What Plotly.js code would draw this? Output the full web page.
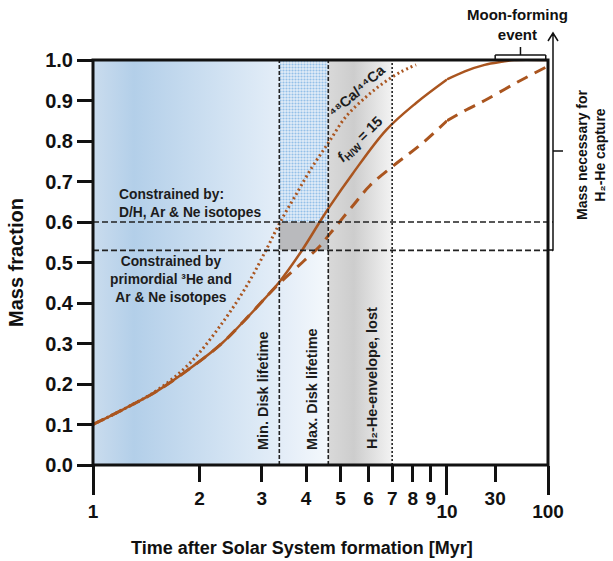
<!DOCTYPE html>
<html>
<head>
<meta charset="utf-8">
<script src="https://cdn.plot.ly/plotly-3.0.1.min.js"></script>
<style>
  html, body { margin: 0; padding: 0; background: #fff; }
  #chart { width: 613px; height: 561px; }
</style>
</head>
<body>
<div id="chart"></div>
<script>
// Growth curves: mass fraction accreted vs. time after Solar System formation (Myr)
const solidTime  = [1, 1.234, 1.52, 1.89, 2.31, 2.68, 3.05, 3.36, 3.9, 4.37, 4.66, 5.42, 6.73, 8.18, 10, 15, 23.6, 36, 46, 100];
const solidMass  = [0.10, 0.14, 0.183, 0.24, 0.30, 0.357, 0.41, 0.452, 0.531, 0.60, 0.638, 0.72, 0.827, 0.894, 0.952, 0.972, 0.988, 0.996, 1.0, 1.0];

const dottedTime = [1, 1.234, 1.52, 1.89, 2.35, 2.75, 3.10, 3.38, 3.73, 4.17, 4.66, 5.18, 5.91, 6.61, 7.38, 8.18];
const dottedMass = [0.10, 0.14, 0.185, 0.254, 0.358, 0.45, 0.535, 0.60, 0.665, 0.737, 0.80, 0.86, 0.909, 0.943, 0.97, 0.988];

const dashedTime = [1, 1.234, 1.52, 1.89, 2.31, 2.68, 3.05, 3.31, 3.9, 4.37, 4.66, 5.42, 6.06, 7.2, 8.4, 10, 15, 23.6, 49.5, 100];
const dashedMass = [0.10, 0.14, 0.183, 0.24, 0.30, 0.357, 0.41, 0.443, 0.50, 0.54, 0.57, 0.64, 0.69, 0.745, 0.79, 0.85, 0.875, 0.90, 0.945, 0.985];

// Time markers (Myr) and constraint levels (mass fraction)
const minDisk = 3.36;
const maxDisk = 4.62;
const envelopeLost = 7;
const heLevel = 0.53;
const dhLevel = 0.60;
const moonForming = [30, 95];

// Axis ticks
const yTicks = [0, 0.1, 0.2, 0.3, 0.4, 0.5, 0.6, 0.7, 0.8, 0.9, 1.0];
const xMajorLow = [1], xMinorLow = [2, 3, 4, 5, 6, 7, 8, 9];
const xMajorHigh = [10, 100], xMinorHigh = [30];

const brown = '#aa551f';
const ink = '#111111';
const split = 0.778;   // the 1-10 decade is stretched, 10-100 compressed

// pixel -> paper helpers for decorations placed around the frame
const PL = 93, PW = 455, PB = 465, PH = 405;
const px = v => (v - PL) / PW;
const py = v => (PB - v) / PH;

function segment(ts, ms, lo, hi) {
  const x = [], y = [];
  ts.forEach((t, i) => { if (t >= lo && t <= hi) { x.push(t); y.push(ms[i]); } });
  return { x, y };
}
function curve(ts, ms, line) {
  const base = { type: 'scatter', mode: 'lines', hoverinfo: 'skip', showlegend: false,
                 line: Object.assign({ shape: 'spline', smoothing: 1, color: brown }, line) };
  const a = segment(ts, ms, 1, 10), b = segment(ts, ms, 10, 100);
  const out = [Object.assign({}, base, { x: a.x, y: a.y, xaxis: 'x', yaxis: 'y' })];
  if (b.x.length > 1) out.push(Object.assign({}, base, { x: b.x, y: b.y, xaxis: 'x2', yaxis: 'y' }));
  return out;
}
function band(x0, x1, y0, y1, extra) {
  return Object.assign({ type: 'scatter', mode: 'lines', fill: 'toself', hoverinfo: 'skip', showlegend: false,
    x: [x0, x1, x1, x0, x0], y: [y0, y0, y1, y1, y0], line: { width: 0 }, xaxis: 'x', yaxis: 'y' }, extra);
}
// empty carrier so the overlaid tick axes get drawn
const tickCarrier = xa => ({ type: 'scatter', mode: 'lines', x: [], y: [], xaxis: xa, yaxis: 'y',
                             hoverinfo: 'skip', showlegend: false });

const traces = [
  // disk phase (nebular gas present)
  band(1, minDisk, 0, 1, { fillgradient: { type: 'horizontal',
    colorscale: [[0, '#cadcee'], [0.22, '#b3cfe9'], [1, '#e4eef8']] } }),
  band(minDisk, maxDisk, 0, heLevel, { fillgradient: { type: 'horizontal',
    colorscale: [[0, '#e2ecf7'], [1, '#f4f8fc']] } }),
  band(minDisk, maxDisk, heLevel, dhLevel, { fillcolor: '#b9babd' }),
  band(minDisk, maxDisk, dhLevel, 1, { fillcolor: '#e2edf8',
    fillpattern: { shape: '.', bgcolor: '#e2edf8', fgcolor: '#94c0e8', size: 3, solidity: 0.4 } }),
  // envelope loss window
  band(maxDisk, envelopeLost, 0, 1, { fillgradient: { type: 'horizontal',
    colorscale: [[0, '#d9d9d9'], [0.4, '#cdcdcd'], [1, '#f3f3f3']] } }),
  ...curve(dottedTime, dottedMass, { width: 3, dash: '2px,3px' }),
  ...curve(dashedTime, dashedMass, { width: 3, dash: '12px,8px' }),
  ...curve(solidTime, solidMass, { width: 2.5 }),
  tickCarrier('x3'), tickCarrier('x4')
];

const tickFontX = { size: 19, color: ink, weight: 'bold' };
const baseX = { type: 'log', showgrid: false, zeroline: false, showline: false, tickmode: 'array',
                ticks: 'outside', tickwidth: 3, tickcolor: ink, tickfont: tickFontX, anchor: 'y' };

const vline = (x, dash) => ({ type: 'line', xref: 'x', yref: 'paper', x0: x, x1: x, y0: 0, y1: 1,
  line: { color: '#222', width: 1.6, dash: dash }, layer: 'above' });
const hline = y => ({ type: 'line', xref: 'paper', yref: 'y', x0: 0, x1: px(553), y0: y, y1: y,
  line: { color: '#222', width: 1.6, dash: '6px,3px' }, layer: 'above' });

const FAMILY = 'Liberation Sans, Arial, sans-serif';
const noteFont = { size: 13.8, color: '#1c1c1c', weight: 'bold', family: FAMILY };
const sized = (size, color) => Object.assign({}, noteFont, { size, color: color || noteFont.color });
const note = (x, y, text, extra) => Object.assign({ xref: 'paper', yref: 'paper', x, y, text,
  showarrow: false, font: noteFont, xanchor: 'center', yanchor: 'middle' }, extra);

const layout = {
  width: 613, height: 561,
  margin: { l: 93, r: 65, t: 60, b: 96 },
  paper_bgcolor: '#ffffff', plot_bgcolor: '#ffffff',
  showlegend: false,
  font: { family: FAMILY, color: ink },
  xaxis:  Object.assign({}, baseX, { domain: [0, split], range: [0, 1], tickvals: xMajorLow,
          ticktext: xMajorLow.map(String), ticklen: 29 }),
  xaxis3: Object.assign({}, baseX, { overlaying: 'x', range: [0, 1], tickvals: xMinorLow,
          ticktext: xMinorLow.map(String), ticklen: 16 }),
  xaxis2: Object.assign({}, baseX, { domain: [split, 1], range: [1, 2], tickvals: xMajorHigh,
          ticktext: xMajorHigh.map(String), ticklen: 29 }),
  xaxis4: Object.assign({}, baseX, { overlaying: 'x2', range: [1, 2], tickvals: xMinorHigh,
          ticktext: xMinorHigh.map(String), ticklen: 16 }),
  yaxis: { range: [0, 1], tickmode: 'array', tickvals: yTicks, tickformat: '.1f',
           ticks: 'outside', ticklen: 15, tickwidth: 3, tickcolor: ink,
           tickfont: { size: 20, color: ink, weight: 'bold' },
           showgrid: false, zeroline: false, showline: false,
           title: { text: 'Mass fraction', font: { size: 20, color: ink, weight: 'bold' }, standoff: 16 } },
  yaxis2: { overlaying: 'y', range: [0, 1], tickmode: 'array', tickvals: yTicks, ticks: 'inside',
            ticklen: 15, tickwidth: 3, tickcolor: ink, showticklabels: false,
            showgrid: false, zeroline: false, showline: false },
  shapes: [
    vline(minDisk, '4px,2px'), vline(maxDisk, '4px,2px'), vline(envelopeLost, '2px,2px'),
    hline(dhLevel), hline(heLevel),
    // frame
    { type: 'rect', xref: 'paper', yref: 'paper', x0: 0, x1: 1, y0: 0, y1: 1,
      line: { color: ink, width: 3 }, layer: 'above' },
    // bracket for the Moon-forming event
    { type: 'line', xref: 'x2', yref: 'paper', x0: moonForming[0], x1: moonForming[1], y0: py(55), y1: py(55),
      line: { color: ink, width: 1.5 }, layer: 'above' },
    { type: 'line', xref: 'x2', yref: 'paper', x0: moonForming[0], x1: moonForming[0], y0: py(55), y1: py(60),
      line: { color: ink, width: 1.5 }, layer: 'above' },
    { type: 'line', xref: 'x2', yref: 'paper', x0: moonForming[1], x1: moonForming[1], y0: py(55), y1: py(60),
      line: { color: ink, width: 1.5 }, layer: 'above' },
    { type: 'line', xref: 'x2', yref: 'paper', x0: Math.sqrt(moonForming[0] * moonForming[1]),
      x1: Math.sqrt(moonForming[0] * moonForming[1]), y0: py(55), y1: py(47),
      line: { color: ink, width: 1.5 }, layer: 'above' },
    // arrow: mass needed for H2-He capture
    { type: 'path', xref: 'paper', yref: 'paper', layer: 'above', line: { color: ink, width: 1.5 },
      path: `M ${px(547)},${py(250)} L ${px(553)},${py(250)} L ${px(553)},${py(33)} ` +
            `M ${px(548)},${py(41)} L ${px(553)},${py(33)} L ${px(558)},${py(41)} ` +
            `M ${px(553)},${py(151)} L ${px(563)},${py(151)}` }
  ],
  annotations: [
    note(px(117), py(203.5), 'Constrained by:<br>D/H, Ar &amp; Ne isotopes', { xanchor: 'left', align: 'left' }),
    note(px(171), py(279), 'Constrained by<br>primordial \u00B3He and<br>Ar &amp; Ne isotopes'),
    note(px(263), py(391), 'Min. Disk lifetime', { textangle: -90, font: sized(14.5) }),
    note(px(312), py(389), 'Max. Disk lifetime', { textangle: -90, font: sized(14.5) }),
    note(px(372), py(378), 'H\u2082-He-envelope, lost', { textangle: -90, font: sized(14.5) }),
    note(px(357), py(91), '\u2074\u2078Ca/\u2074\u2074Ca', { textangle: -42, font: sized(14.5) }),
    note(px(360), py(140), '<i>f</i><sub>H/W</sub> = 15', { textangle: -45, font: sized(14.5) }),
    note(px(517), py(24), 'Moon-forming<br>event', { font: sized(15, ink) }),
    note(px(591), py(155), 'Mass necessary for<br>H\u2082-He capture', { textangle: -90, font: sized(14, ink) }),
    note(px(302), py(548), 'Time after Solar System formation [Myr]', { font: sized(18, ink) })
  ]
};

Plotly.newPlot('chart', traces, layout, { displayModeBar: false, staticPlot: true });
</script>
</body>
</html>
